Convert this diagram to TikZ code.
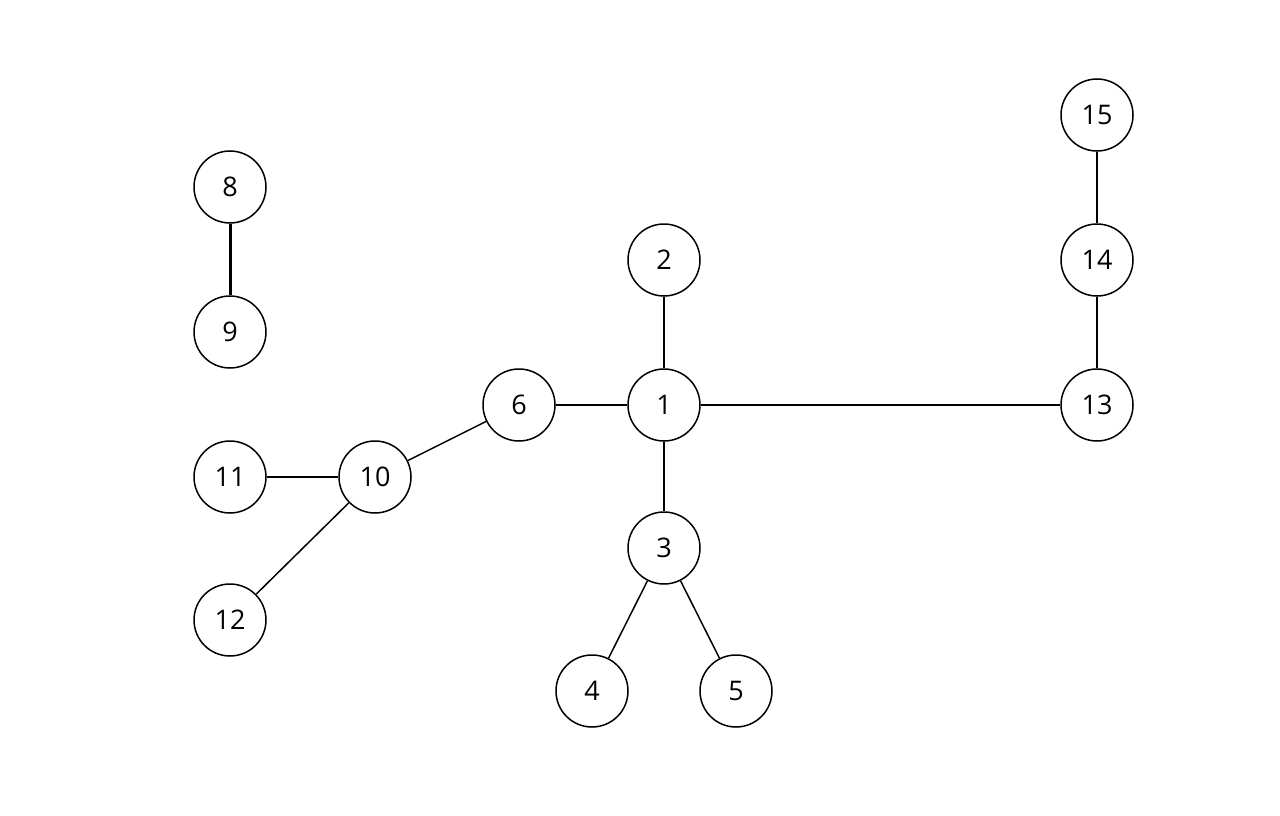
\documentclass[tikz,border=0pt]{standalone}
\usepackage{fontspec}
\setmainfont{Open Sans}
\begin{document}
\begin{tikzpicture}[x=1pt,y=-1pt,
  vtx/.style={circle,draw,line width=1.5pt,minimum size=72pt,inner sep=0pt,font=\fontsize{27}{31}\selectfont},
  edge/.style={line width=1.5pt},
  thick edge/.style={line width=3pt}]
\useasboundingbox (0,0) rectangle (1280,816);
\node[vtx] (n1) at (664,405) {1};
\node[vtx] (n2) at (664,260) {2};
\node[vtx] (n3) at (664,548) {3};
\node[vtx] (n4) at (592,691) {4};
\node[vtx] (n5) at (736,691) {5};
\node[vtx] (n6) at (519,405) {6};
\node[vtx] (n8) at (230,187) {8};
\node[vtx] (n9) at (230,332) {9};
\node[vtx] (n10) at (375,477) {10};
\node[vtx] (n11) at (230,477) {11};
\node[vtx] (n12) at (230,620) {12};
\node[vtx] (n13) at (1097,405) {13};
\node[vtx] (n14) at (1097,260) {14};
\node[vtx] (n15) at (1097,115) {15};
\draw[edge] (n1) -- (n2);
\draw[edge] (n1) -- (n3);
\draw[edge] (n3) -- (n4);
\draw[edge] (n3) -- (n5);
\draw[edge] (n1) -- (n6);
\draw[edge] (n1) -- (n13);
\draw[edge] (n13) -- (n14);
\draw[edge] (n14) -- (n15);
\draw[edge] (n6) -- (n10);
\draw[edge] (n10) -- (n11);
\draw[edge] (n10) -- (n12);
\draw[thick edge] (n8) -- (n9);
\end{tikzpicture}
\end{document}
